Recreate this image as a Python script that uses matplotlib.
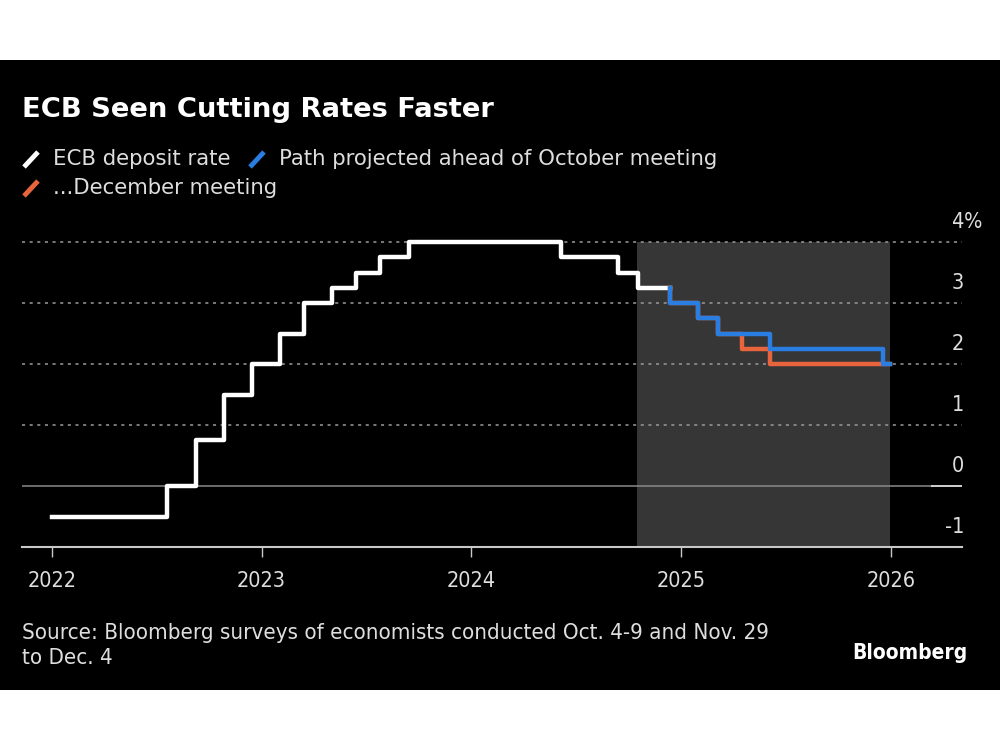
import matplotlib
matplotlib.use("Agg")
import matplotlib.pyplot as plt
import matplotlib.dates as mdates
from matplotlib.lines import Line2D
from matplotlib.patches import Rectangle
import matplotlib.transforms as mtransforms
from datetime import date

# ECB deposit rate (history, by decision date)
hist_dates = ["2022-01-01", "2022-07-21", "2022-09-08", "2022-10-27", "2022-12-15",
              "2023-02-02", "2023-03-16", "2023-05-04", "2023-06-15", "2023-07-27",
              "2023-09-14", "2024-06-06", "2024-09-12", "2024-10-17", "2024-12-12"]
hist_rates = [-0.5, 0.0, 0.75, 1.5, 2.0, 2.5, 3.0, 3.25, 3.5, 3.75, 4.0, 3.75, 3.5, 3.25, 3.25]

# path projected ahead of October meeting
oct_dates = ["2024-12-12", "2024-12-12", "2025-01-30", "2025-03-06", "2025-06-05",
             "2025-12-18", "2025-12-31"]
oct_rates = [3.25, 3.0, 2.75, 2.5, 2.25, 2.0, 2.0]

# path projected ahead of December meeting
dec_dates = ["2024-12-12", "2024-12-12", "2025-01-30", "2025-03-06", "2025-04-17",
             "2025-06-05", "2025-12-31"]
dec_rates = [3.25, 3.0, 2.75, 2.5, 2.25, 2.0, 2.0]

shade_start, shade_end = "2024-10-15", "2025-12-31"
year_ticks = [2022, 2023, 2024, 2025, 2026]
y_ticks = [-1, 0, 1, 2, 3, 4]

WHITE = "#ffffff"
BLUE = "#2a7de1"
ORANGE = "#e8643c"
TXT = "#dedede"


def to_dates(xs):
    return [mdates.date2num(date.fromisoformat(d)) for d in xs]


W, H = 1000, 750
fig = plt.figure(figsize=(10, 7.5), dpi=100, facecolor="white")


def fx(px):
    return px / W


def fy(py):
    return 1 - py / H


# black panel
fig.add_artist(Rectangle((0, fy(690)), 1, (690 - 60) / H, transform=fig.transFigure,
                         facecolor="black", edgecolor="none", zorder=0))

ax = fig.add_axes([fx(22), fy(547), fx(962) - fx(22), (547 - 230) / H])
ax.set_facecolor("black")
ax.patch.set_alpha(0)

x0 = mdates.date2num(date(2022, 1, 1))
x1 = mdates.date2num(date(2023, 1, 1))
px_per_day = 209.6 / (x1 - x0)
ax.set_xlim(x0 - 30 / px_per_day, x0 + 910 / px_per_day)
ax.set_ylim(-1, 4 + 12 / 61)

ax.axvspan(mdates.date2num(date.fromisoformat(shade_start)),
           mdates.date2num(date.fromisoformat(shade_end)),
           ymin=0, ymax=5 / (5 + 12 / 61), color="#363636", lw=0, zorder=1)

for v in y_ticks[2:]:
    ax.axhline(v, color="#9a9a9a", lw=1.1, ls=(0, (2, 3)), zorder=2)
ax.axhline(0, color="#8a8a8a", lw=1.1, xmax=(932 - 22) / 940, zorder=2)
ax.axhline(0, color="#e0e0e0", lw=1.3, xmin=(932 - 22) / 940, xmax=(964 - 22) / 940, zorder=2)

ax.plot(to_dates(hist_dates), hist_rates, drawstyle="steps-post", color=WHITE, lw=3.2, zorder=5)
ax.plot(to_dates(dec_dates), dec_rates, drawstyle="steps-post", color=ORANGE, lw=3.2, zorder=6)
ax.plot(to_dates(oct_dates), oct_rates, drawstyle="steps-post", color=BLUE, lw=3.2, zorder=7)

for s in ["top", "right", "left"]:
    ax.spines[s].set_visible(False)
ax.spines["bottom"].set_color("#c8c8c8")
ax.spines["bottom"].set_linewidth(1.5)

ax.set_xticks([mdates.date2num(date(y, 1, 1)) for y in year_ticks])
ax.set_xticklabels([str(y) for y in year_ticks], color=TXT, fontsize=15.5, fontstretch="condensed")
ax.tick_params(axis="x", length=7, width=1, color="#c8c8c8", pad=10)
ax.set_yticks([])

# y labels above gridlines, on the right
off = mtransforms.offset_copy(ax.transData, fig=fig, x=0, y=10, units="dots")
tr = mtransforms.blended_transform_factory(fig.transFigure, off)
for v in y_ticks:
    ax.text(fx(964), v, str(v), transform=tr, ha="right", va="bottom", color=TXT,
            fontsize=15.5, fontstretch="condensed")
ax.text(fx(964), 4, "%", transform=tr, ha="left", va="bottom", color=TXT, fontsize=15.5,
        fontstretch="condensed")

# title
fig.text(fx(22), fy(110), "ECB Seen Cutting Rates Faster", color="white", fontsize=19.7,
         fontweight="bold", va="center", ha="left")

# legend
legend = [(22, 159, WHITE, "ECB deposit rate"),
          (248, 159, BLUE, "Path projected ahead of October meeting"),
          (22, 188, ORANGE, "...December meeting")]
for px, py, c, label in legend:
    fig.add_artist(Line2D([fx(px + 2), fx(px + 16)], [fy(py + 8), fy(py - 7)],
                          transform=fig.transFigure, color=c, lw=3.5, solid_capstyle="butt"))
    fig.text(fx(px + 31), fy(py), label, color=TXT, fontsize=15.3, va="center", ha="left")

fig.text(fx(22), fy(633), "Source: Bloomberg surveys of economists conducted Oct. 4-9 and Nov. 29",
         color=TXT, fontsize=16, fontstretch="condensed", va="center", ha="left")
fig.text(fx(22), fy(658), "to Dec. 4", color=TXT, fontsize=16, fontstretch="condensed",
         va="center", ha="left")
fig.text(fx(968), fy(653), "Bloomberg", color="white", fontsize=15, fontweight="bold",
         fontstretch="condensed", va="center", ha="right")

fig.savefig("out.png", dpi=100, facecolor="white")
